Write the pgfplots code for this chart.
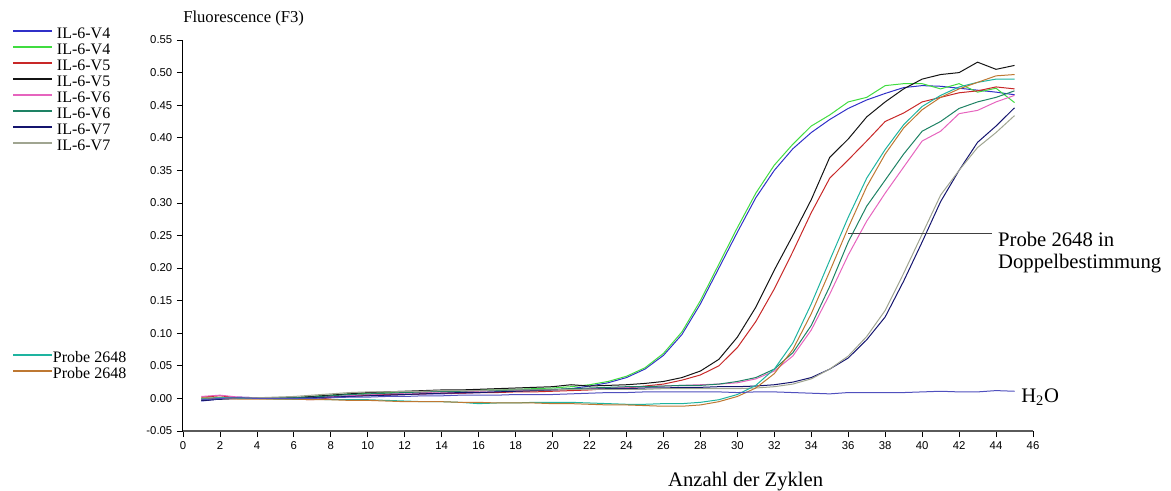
\documentclass[border=0pt]{standalone}
\usepackage{fontspec}
\setmainfont{Liberation Serif}
\newfontfamily\arialfont{Liberation Sans}
\usepackage{pgfplots}
\usepackage{pgfplotstable}
\pgfplotsset{compat=1.18}

\definecolor{cBlue}{RGB}{48,48,200}
\definecolor{cGreen}{RGB}{64,220,64}
\definecolor{cRed}{RGB}{200,40,40}
\definecolor{cBlack}{RGB}{20,20,20}
\definecolor{cPink}{RGB}{230,100,190}
\definecolor{cDTeal}{RGB}{30,130,100}
\definecolor{cNavy}{RGB}{20,20,110}
\definecolor{cGray}{RGB}{160,165,145}
\definecolor{cTeal}{RGB}{30,180,160}
\definecolor{cOrange}{RGB}{190,120,50}
\definecolor{cWater}{RGB}{80,80,190}
\definecolor{cAxis}{RGB}{90,90,90}

% cycle, V4a, V4b, V5a, V5b, V6a, V6b, V7a, V7b, probe a, probe b, H2O
\pgfplotstableread{
c  vfa    vfb    vva    vvb    vsa    vsb    vta    vtb    pa     pb     h
1  -0.004 -0.002 0.002  -0.003 0.003  0.000  -0.003 -0.001 0.000  0.001  -0.002
2  -0.001 0.000  0.004  -0.001 0.005  0.001  -0.001 0.000  0.001  0.000  0.000
3  0.002  0.001  0.001  0.000  0.002  0.001  0.000  0.000  0.000  -0.001 0.001
4  0.001  0.001  0.000  0.000  0.001  0.000  0.000  0.001  0.000  -0.001 0.000
5  0.000  0.001  0.000  0.000  0.000  0.000  0.000  0.002  -0.001 -0.001 0.000
6  0.000  0.001  -0.001 0.001  0.000  0.001  0.000  0.003  -0.001 -0.001 0.000
7  0.001  0.003  -0.002 0.003  0.001  0.002  0.001  0.005  -0.001 -0.002 0.000
8  0.002  0.005  0.001  0.005  0.003  0.004  0.002  0.007  -0.002 -0.002 0.001
9  0.004  0.007  0.003  0.007  0.004  0.006  0.003  0.009  -0.002 -0.003 0.002
10 0.005  0.008  0.005  0.009  0.006  0.007  0.004  0.010  -0.002 -0.003 0.002
11 0.005  0.009  0.006  0.010  0.007  0.008  0.005  0.010  -0.003 -0.004 0.003
12 0.006  0.010  0.006  0.011  0.008  0.009  0.006  0.011  -0.004 -0.005 0.003
13 0.007  0.010  0.007  0.012  0.009  0.010  0.007  0.011  -0.005 -0.005 0.004
14 0.007  0.011  0.008  0.013  0.010  0.011  0.008  0.012  -0.005 -0.005 0.004
15 0.008  0.012  0.008  0.013  0.010  0.011  0.009  0.012  -0.006 -0.006 0.005
16 0.009  0.013  0.009  0.014  0.011  0.012  0.009  0.012  -0.008 -0.006 0.005
17 0.010  0.013  0.009  0.015  0.012  0.012  0.010  0.013  -0.007 -0.007 0.005
18 0.011  0.014  0.010  0.016  0.012  0.013  0.011  0.013  -0.007 -0.007 0.006
19 0.012  0.015  0.010  0.017  0.013  0.014  0.012  0.013  -0.006 -0.007 0.006
20 0.013  0.016  0.011  0.018  0.013  0.014  0.013  0.013  -0.006 -0.008 0.006
21 0.015  0.018  0.012  0.021  0.014  0.015  0.014  0.014  -0.006 -0.008 0.007
22 0.019  0.021  0.013  0.019  0.015  0.016  0.014  0.014  -0.007 -0.009 0.008
23 0.024  0.026  0.015  0.020  0.016  0.017  0.015  0.014  -0.008 -0.010 0.009
24 0.032  0.034  0.016  0.021  0.017  0.018  0.015  0.014  -0.009 -0.010 0.009
25 0.045  0.047  0.019  0.023  0.018  0.018  0.016  0.014  -0.009 -0.011 0.010
26 0.066  0.069  0.022  0.026  0.019  0.019  0.016  0.015  -0.008 -0.012 0.010
27 0.098  0.102  0.028  0.032  0.020  0.020  0.017  0.015  -0.008 -0.012 0.010
28 0.145  0.150  0.036  0.042  0.021  0.020  0.017  0.015  -0.006 -0.010 0.010
29 0.200  0.206  0.050  0.060  0.022  0.022  0.018  0.015  -0.002 -0.005 0.010
30 0.255  0.262  0.078  0.094  0.024  0.026  0.018  0.015  0.006  0.003  0.009
31 0.308  0.315  0.118  0.140  0.030  0.032  0.019  0.016  0.020  0.016  0.010
32 0.350  0.358  0.168  0.197  0.042  0.045  0.021  0.018  0.045  0.038  0.010
33 0.383  0.390  0.225  0.250  0.065  0.070  0.025  0.022  0.085  0.075  0.009
34 0.408  0.418  0.285  0.305  0.105  0.112  0.032  0.030  0.145  0.130  0.008
35 0.428  0.435  0.338  0.370  0.160  0.172  0.045  0.045  0.212  0.195  0.007
36 0.445  0.455  0.366  0.398  0.220  0.240  0.062  0.065  0.278  0.262  0.009
37 0.458  0.462  0.395  0.432  0.272  0.295  0.090  0.095  0.338  0.325  0.009
38 0.468  0.480  0.425  0.455  0.315  0.335  0.125  0.135  0.382  0.375  0.009
39 0.477  0.483  0.438  0.475  0.355  0.375  0.180  0.192  0.420  0.415  0.009
40 0.480  0.483  0.455  0.490  0.395  0.410  0.240  0.252  0.448  0.443  0.010
41 0.479  0.475  0.462  0.497  0.410  0.425  0.302  0.312  0.465  0.462  0.011
42 0.476  0.483  0.469  0.500  0.437  0.445  0.350  0.350  0.478  0.475  0.010
43 0.473  0.470  0.472  0.516  0.442  0.455  0.393  0.385  0.485  0.485  0.010
44 0.470  0.476  0.478  0.505  0.455  0.462  0.418  0.408  0.490  0.495  0.012
45 0.466  0.454  0.475  0.511  0.465  0.472  0.446  0.434  0.490  0.497  0.011
}\qpcr

\begin{document}
\begin{tikzpicture}
\useasboundingbox (-137.25pt,-44.25pt) rectangle (741pt,323.25pt);
\begin{axis}[
  scale only axis,
  width=637.5pt, height=293.25pt,
  xmin=0, xmax=46, ymin=-0.05, ymax=0.55,
  axis x line=bottom, axis y line=left,
  x axis line style={-, draw=cAxis, line width=1.5pt},
  y axis line style={-, draw=black, line width=0.75pt},
  xtick={0,2,...,46},
  ytick={-0.05,0,0.05,0.10,0.15,0.20,0.25,0.30,0.35,0.40,0.45,0.50,0.55},
  tick align=outside, major tick length=4.5pt,
  tick style={black, line width=0.6pt},
  /pgf/number format/assume math mode=true,
  yticklabel style={/pgf/number format/.cd, fixed, fixed zerofill, precision=2},
  tick label style={font=\arialfont\fontsize{8.5}{10}\selectfont},
  xlabel={Anzahl der Zyklen},
  xlabel style={font=\fontsize{15.5}{18}\selectfont, at={(axis description cs:0.662,-0.141)}, anchor=base},
  ylabel={Fluorescence (F3)},
  ylabel style={font=\rmfamily\fontsize{12.5}{14}\selectfont, rotate=-90, inner sep=0pt, at={(axis description cs:0,1.046)}, anchor=base west},
  clip=false,
  legend style={draw=white, fill=white, at={(-0.2059,1.0376)}, anchor=north west,
    row sep=0pt, column sep=3pt,
    nodes={inner sep=0pt, text height=8pt, text depth=4pt, font=\fontsize{12}{14}\selectfont}},
  legend cell align=left,
  legend image code/.code={\draw[#1, line width=1.3pt] (0pt,3.7pt) -- (29.25pt,3.7pt);},
  every axis plot/.append style={line width=0.75pt},
]
\addplot[color=cBlue] table[x=c,y=vfa]{\qpcr}; \addlegendentry{IL-6-V4}
\addplot[color=cGreen] table[x=c,y=vfb]{\qpcr}; \addlegendentry{IL-6-V4}
\addplot[color=cRed] table[x=c,y=vva]{\qpcr}; \addlegendentry{IL-6-V5}
\addplot[color=cBlack] table[x=c,y=vvb]{\qpcr}; \addlegendentry{IL-6-V5}
\addplot[color=cPink] table[x=c,y=vsa]{\qpcr}; \addlegendentry{IL-6-V6}
\addplot[color=cDTeal] table[x=c,y=vsb]{\qpcr}; \addlegendentry{IL-6-V6}
\addplot[color=cNavy] table[x=c,y=vta]{\qpcr}; \addlegendentry{IL-6-V7}
\addplot[color=cGray] table[x=c,y=vtb]{\qpcr}; \addlegendentry{IL-6-V7}
\addlegendimage{empty legend}
\addlegendentry[text height=143pt]{}
\addplot[color=cTeal] table[x=c,y=pa]{\qpcr}; \addlegendentry{\hspace{-3pt}Probe 2648}
\addplot[color=cOrange] table[x=c,y=pb]{\qpcr}; \addlegendentry{\hspace{-3pt}Probe 2648}
\addplot[color=cWater, forget plot] table[x=c,y=h]{\qpcr};

\draw[black!75, line width=1pt] (axis cs:36,0.253) -- (axis cs:43.8,0.253);
\node[anchor=north west, inner sep=0pt, align=left, font=\fontsize{15.5}{16.5}\selectfont]
  at (axis cs:44.1,0.256) {Probe 2648 in\\Doppelbestimmung};
\node[anchor=west, inner sep=0pt, font=\fontsize{15.5}{18}\selectfont]
  at (axis cs:45.35,0.002) {H\textsubscript{2}O};
\end{axis}
\end{tikzpicture}
\end{document}
